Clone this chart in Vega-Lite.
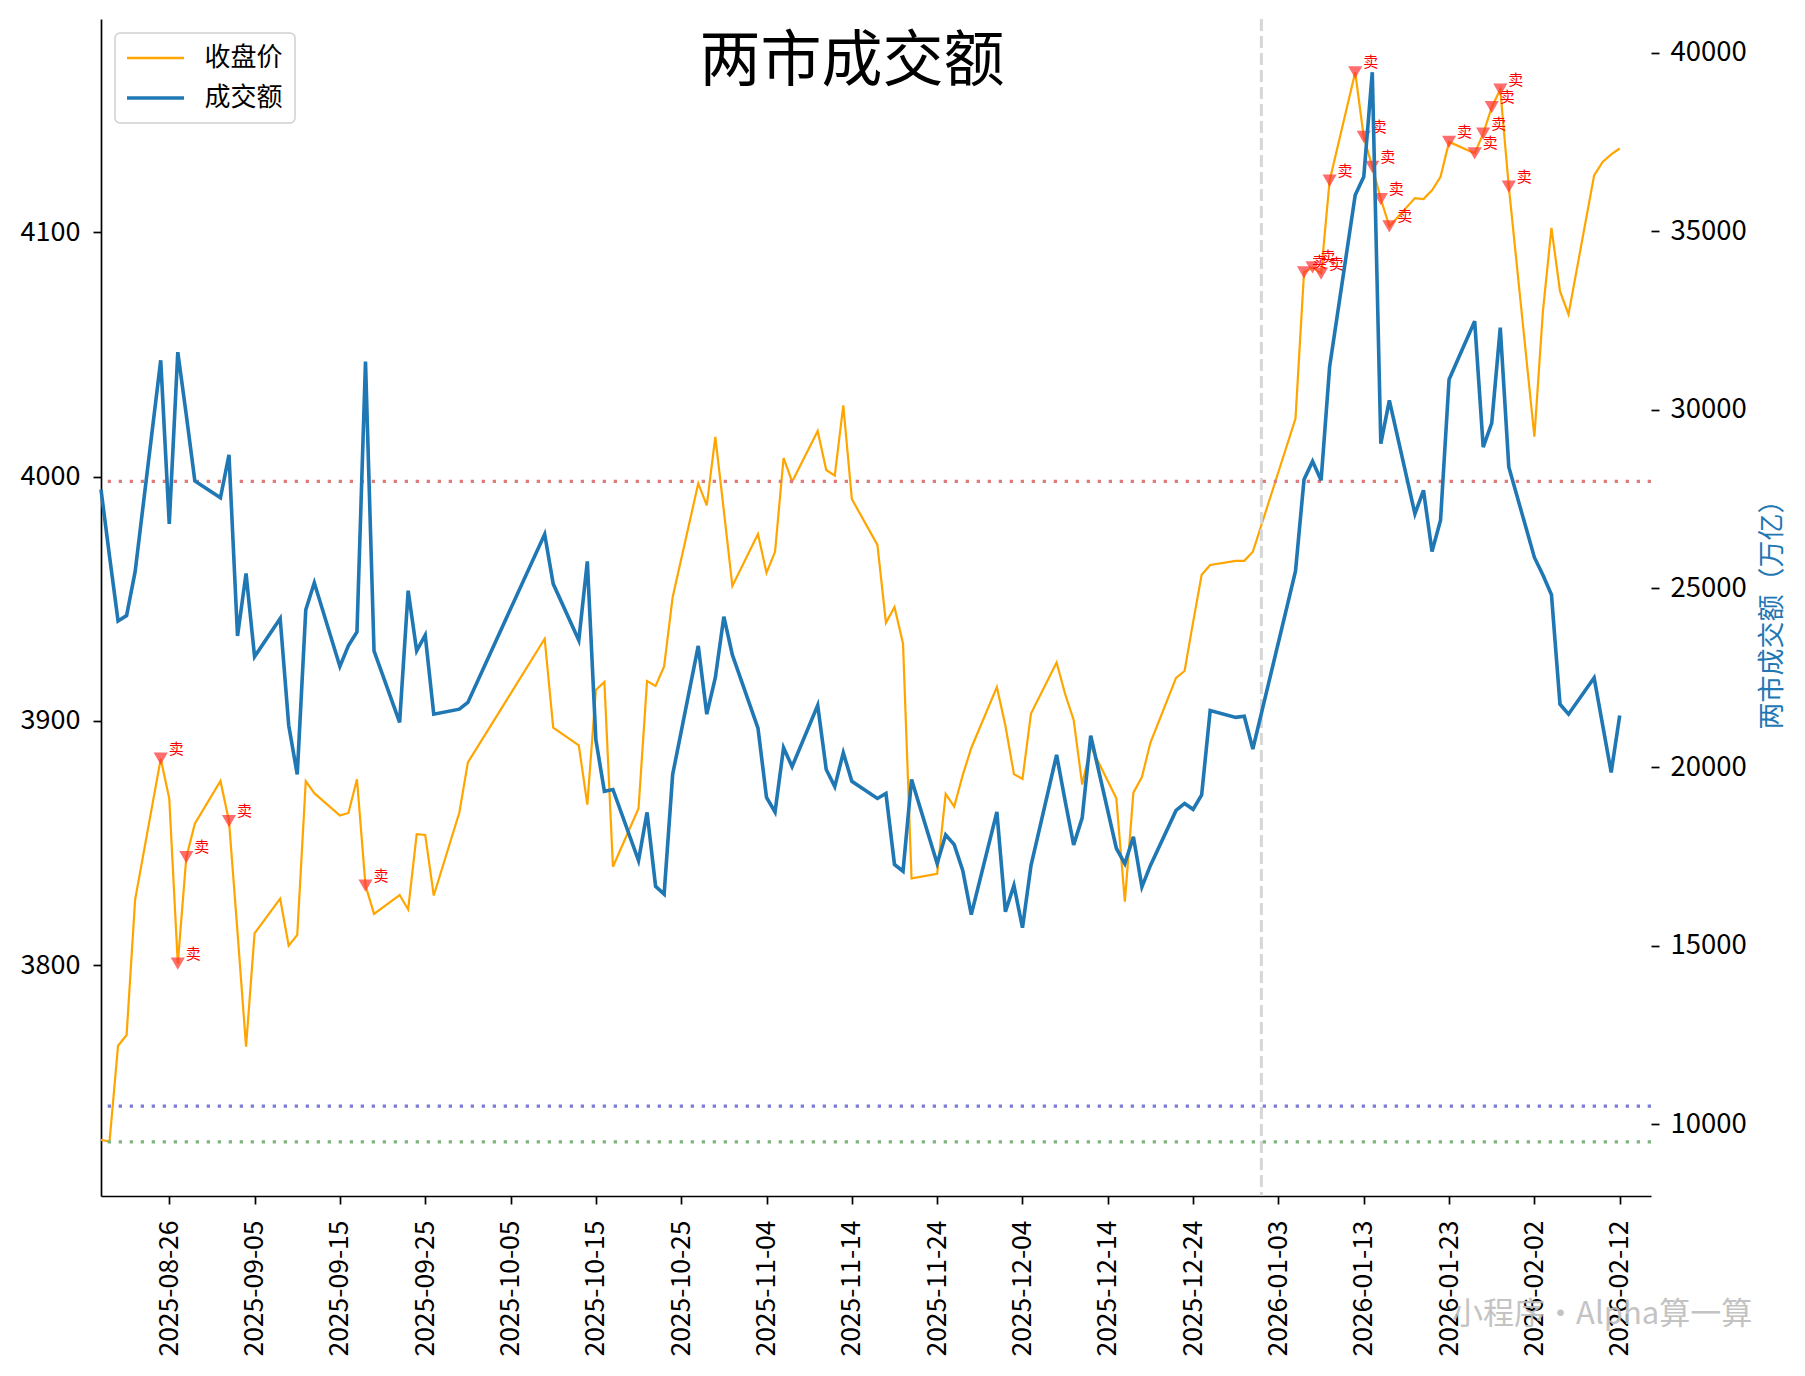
{
  "$schema": "https://vega.github.io/schema/vega-lite/v6.json",
  "autosize": {"type": "none"},
  "width": 1550,
  "height": 1177,
  "padding": {"left": 101, "top": 19, "right": 154, "bottom": 180},
  "background": "white",
  "title": {
    "text": "两市成交额",
    "fontSize": 61,
    "fontWeight": "normal",
    "color": "black",
    "anchor": "middle",
    "frame": "group",
    "offset": 0,
    "dx": -24,
    "dy": 76
  },
  "config": {
    "font": "Noto Sans CJK SC",
    "view": {"stroke": null},
    "legend": {
      "strokeWidth": 1.5
    }
  },
  "datasets": {
    "market": [
      {"date": "2025-08-18", "close": 3728.5, "vol": 27770},
      {"date": "2025-08-19", "close": 3727.8, "vol": 25900},
      {"date": "2025-08-20", "close": 3767.0, "vol": 24090},
      {"date": "2025-08-21", "close": 3771.4, "vol": 24240},
      {"date": "2025-08-22", "close": 3826.8, "vol": 25470},
      {"date": "2025-08-25", "close": 3884.5, "vol": 31390, "sig": "卖"},
      {"date": "2025-08-26", "close": 3868.2, "vol": 26810},
      {"date": "2025-08-27", "close": 3800.6, "vol": 31620, "sig": "卖"},
      {"date": "2025-08-28", "close": 3844.2, "vol": 29850, "sig": "卖"},
      {"date": "2025-08-29", "close": 3857.9, "vol": 28010},
      {"date": "2025-09-01", "close": 3875.4, "vol": 27540},
      {"date": "2025-09-02", "close": 3859.0, "vol": 28740, "sig": "卖"},
      {"date": "2025-09-03", "close": 3813.5, "vol": 23670},
      {"date": "2025-09-04", "close": 3766.6, "vol": 25420},
      {"date": "2025-09-05", "close": 3813.0, "vol": 23090},
      {"date": "2025-09-08", "close": 3827.2, "vol": 24160},
      {"date": "2025-09-09", "close": 3808.0, "vol": 21170},
      {"date": "2025-09-10", "close": 3812.4, "vol": 19790},
      {"date": "2025-09-11", "close": 3875.3, "vol": 24400},
      {"date": "2025-09-12", "close": 3870.4, "vol": 25160},
      {"date": "2025-09-15", "close": 3861.2, "vol": 22815},
      {"date": "2025-09-16", "close": 3862.3, "vol": 23400},
      {"date": "2025-09-17", "close": 3876.1, "vol": 23780},
      {"date": "2025-09-18", "close": 3832.6, "vol": 31355, "sig": "卖"},
      {"date": "2025-09-19", "close": 3821.0, "vol": 23250},
      {"date": "2025-09-22", "close": 3828.7, "vol": 21250},
      {"date": "2025-09-23", "close": 3822.8, "vol": 24940},
      {"date": "2025-09-24", "close": 3853.6, "vol": 23250},
      {"date": "2025-09-25", "close": 3853.3, "vol": 23690},
      {"date": "2025-09-26", "close": 3828.5, "vol": 21480},
      {"date": "2025-09-29", "close": 3862.5, "vol": 21620},
      {"date": "2025-09-30", "close": 3883.0, "vol": 21810},
      {"date": "2025-10-09", "close": 3933.6, "vol": 26520},
      {"date": "2025-10-10", "close": 3897.2, "vol": 25130},
      {"date": "2025-10-13", "close": 3890.0, "vol": 23550},
      {"date": "2025-10-14", "close": 3865.7, "vol": 25760},
      {"date": "2025-10-15", "close": 3912.6, "vol": 20760},
      {"date": "2025-10-16", "close": 3915.9, "vol": 19320},
      {"date": "2025-10-17", "close": 3840.3, "vol": 19370},
      {"date": "2025-10-20", "close": 3864.1, "vol": 17380},
      {"date": "2025-10-21", "close": 3916.3, "vol": 18730},
      {"date": "2025-10-22", "close": 3914.3, "vol": 16660},
      {"date": "2025-10-23", "close": 3922.3, "vol": 16440},
      {"date": "2025-10-24", "close": 3950.6, "vol": 19790},
      {"date": "2025-10-27", "close": 3997.2, "vol": 23390},
      {"date": "2025-10-28", "close": 3988.2, "vol": 21480},
      {"date": "2025-10-29", "close": 4016.2, "vol": 22500},
      {"date": "2025-10-30", "close": 3986.0, "vol": 24210},
      {"date": "2025-10-31", "close": 3955.2, "vol": 23140},
      {"date": "2025-11-03", "close": 3976.5, "vol": 21090},
      {"date": "2025-11-04", "close": 3960.6, "vol": 19150},
      {"date": "2025-11-05", "close": 3969.2, "vol": 18740},
      {"date": "2025-11-06", "close": 4007.6, "vol": 20540},
      {"date": "2025-11-07", "close": 3997.9, "vol": 20010},
      {"date": "2025-11-10", "close": 4018.6, "vol": 21730},
      {"date": "2025-11-11", "close": 4002.7, "vol": 19930},
      {"date": "2025-11-12", "close": 4000.4, "vol": 19450},
      {"date": "2025-11-13", "close": 4029.1, "vol": 20400},
      {"date": "2025-11-14", "close": 3990.8, "vol": 19600},
      {"date": "2025-11-17", "close": 3972.0, "vol": 19120},
      {"date": "2025-11-18", "close": 3940.1, "vol": 19260},
      {"date": "2025-11-19", "close": 3946.6, "vol": 17270},
      {"date": "2025-11-20", "close": 3931.6, "vol": 17080},
      {"date": "2025-11-21", "close": 3835.5, "vol": 19650},
      {"date": "2025-11-24", "close": 3837.4, "vol": 17300},
      {"date": "2025-11-25", "close": 3870.1, "vol": 18100},
      {"date": "2025-11-26", "close": 3864.9, "vol": 17825},
      {"date": "2025-11-27", "close": 3877.8, "vol": 17105},
      {"date": "2025-11-28", "close": 3888.9, "vol": 15865},
      {"date": "2025-12-01", "close": 3913.8, "vol": 18740},
      {"date": "2025-12-02", "close": 3898.0, "vol": 15945},
      {"date": "2025-12-03", "close": 3878.2, "vol": 16685},
      {"date": "2025-12-04", "close": 3876.2, "vol": 15500},
      {"date": "2025-12-05", "close": 3903.0, "vol": 17240},
      {"date": "2025-12-08", "close": 3923.9, "vol": 20340},
      {"date": "2025-12-09", "close": 3911.0, "vol": 19050},
      {"date": "2025-12-10", "close": 3900.4, "vol": 17820},
      {"date": "2025-12-11", "close": 3873.9, "vol": 18575},
      {"date": "2025-12-12", "close": 3889.5, "vol": 20875},
      {"date": "2025-12-15", "close": 3868.3, "vol": 17725},
      {"date": "2025-12-16", "close": 3826.0, "vol": 17290},
      {"date": "2025-12-17", "close": 3870.6, "vol": 18045},
      {"date": "2025-12-18", "close": 3877.0, "vol": 16645},
      {"date": "2025-12-19", "close": 3891.1, "vol": 17245},
      {"date": "2025-12-22", "close": 3917.6, "vol": 18785},
      {"date": "2025-12-23", "close": 3920.4, "vol": 18980},
      {"date": "2025-12-24", "close": 3940.4, "vol": 18815},
      {"date": "2025-12-25", "close": 3959.8, "vol": 19220},
      {"date": "2025-12-26", "close": 3963.8, "vol": 21580},
      {"date": "2025-12-29", "close": 3965.5, "vol": 21390},
      {"date": "2025-12-30", "close": 3965.5, "vol": 21420},
      {"date": "2025-12-31", "close": 3969.2, "vol": 20505},
      {"date": "2026-01-05", "close": 4023.7, "vol": 25485},
      {"date": "2026-01-06", "close": 4083.6, "vol": 28050, "sig": "卖"},
      {"date": "2026-01-07", "close": 4085.6, "vol": 28560, "sig": "卖"},
      {"date": "2026-01-08", "close": 4083.1, "vol": 28030, "sig": "卖"},
      {"date": "2026-01-09", "close": 4121.1, "vol": 31210, "sig": "卖"},
      {"date": "2026-01-12", "close": 4165.5, "vol": 36020, "sig": "卖"},
      {"date": "2026-01-13", "close": 4139.0, "vol": 36530, "sig": "卖"},
      {"date": "2026-01-14", "close": 4126.8, "vol": 39460, "sig": "卖"},
      {"date": "2026-01-15", "close": 4113.6, "vol": 29055, "sig": "卖"},
      {"date": "2026-01-16", "close": 4102.4, "vol": 30270, "sig": "卖"},
      {"date": "2026-01-19", "close": 4114.0, "vol": 27090},
      {"date": "2026-01-20", "close": 4113.6, "vol": 27750},
      {"date": "2026-01-21", "close": 4117.2, "vol": 26035},
      {"date": "2026-01-22", "close": 4122.7, "vol": 26915},
      {"date": "2026-01-23", "close": 4137.0, "vol": 30855, "sig": "卖"},
      {"date": "2026-01-26", "close": 4132.3, "vol": 32485, "sig": "卖"},
      {"date": "2026-01-27", "close": 4140.4, "vol": 28960, "sig": "卖"},
      {"date": "2026-01-28", "close": 4151.2, "vol": 29630, "sig": "卖"},
      {"date": "2026-01-29", "close": 4158.4, "vol": 32305, "sig": "卖"},
      {"date": "2026-01-30", "close": 4118.7, "vol": 28405, "sig": "卖"},
      {"date": "2026-02-02", "close": 4016.3, "vol": 25870},
      {"date": "2026-02-03", "close": 4067.7, "vol": 25380},
      {"date": "2026-02-04", "close": 4101.8, "vol": 24825},
      {"date": "2026-02-05", "close": 4075.9, "vol": 21760},
      {"date": "2026-02-06", "close": 4066.4, "vol": 21480},
      {"date": "2026-02-09", "close": 4123.3, "vol": 22500},
      {"date": "2026-02-10", "close": 4128.8, "vol": 21175},
      {"date": "2026-02-11", "close": 4131.9, "vol": 19850},
      {"date": "2026-02-12", "close": 4134.3, "vol": 21440}
    ],
    "levels": [
      {"kind": "high", "level": 28000},
      {"kind": "mid", "level": 10500},
      {"kind": "low", "level": 9500}
    ],
    "divider": [{"date": "2026-01-01"}],
    "watermark": [{"date": "2026-02-09T22:30:00Z", "close": 3656.7, "note": "小程序•Alpha算一算"}]
  },
  "layer": [
    {
      "data": {"name": "market"},
      "encoding": {
        "x": {
          "field": "date",
          "type": "temporal",
          "scale": {
            "type": "utc",
            "domain": [
              {"year": 2025, "month": 8, "date": 18, "utc": true},
              {"year": 2026, "month": 2, "date": 15, "hours": 16, "utc": true}
            ]
          },
          "axis": {
            "title": null,
            "grid": false,
            "values": [
              {"year": 2025, "month": 8, "date": 26, "utc": true},
              {"year": 2025, "month": 9, "date": 5, "utc": true},
              {"year": 2025, "month": 9, "date": 15, "utc": true},
              {"year": 2025, "month": 9, "date": 25, "utc": true},
              {"year": 2025, "month": 10, "date": 5, "utc": true},
              {"year": 2025, "month": 10, "date": 15, "utc": true},
              {"year": 2025, "month": 10, "date": 25, "utc": true},
              {"year": 2025, "month": 11, "date": 4, "utc": true},
              {"year": 2025, "month": 11, "date": 14, "utc": true},
              {"year": 2025, "month": 11, "date": 24, "utc": true},
              {"year": 2025, "month": 12, "date": 4, "utc": true},
              {"year": 2025, "month": 12, "date": 14, "utc": true},
              {"year": 2025, "month": 12, "date": 24, "utc": true},
              {"year": 2026, "month": 1, "date": 3, "utc": true},
              {"year": 2026, "month": 1, "date": 13, "utc": true},
              {"year": 2026, "month": 1, "date": 23, "utc": true},
              {"year": 2026, "month": 2, "date": 2, "utc": true},
              {"year": 2026, "month": 2, "date": 12, "utc": true}
            ],
            "format": "%Y-%m-%d",
            "labelAngle": 270,
            "labelFontSize": 26.5,
            "labelColor": "black",
            "labelPadding": 16,
            "labelOverlap": false,
            "labelFlush": false,
            "tickSize": 8,
            "tickWidth": 1.7,
            "tickColor": "black",
            "domainColor": "black",
            "domainWidth": 1.7
          }
        },
        "y": {
          "field": "close",
          "type": "quantitative",
          "scale": {"domain": [3705.5, 4187.3], "nice": false, "zero": false},
          "axis": {
            "orient": "left",
            "title": null,
            "grid": false,
            "values": [3800, 3900, 4000, 4100],
            "format": "d",
            "labelFontSize": 27,
            "labelColor": "black",
            "labelPadding": 13,
            "tickSize": 8,
            "tickWidth": 1.7,
            "tickColor": "black",
            "domainColor": "black",
            "domainWidth": 1.7
          }
        }
      },
      "layer": [
        {
          "mark": {"type": "line", "strokeWidth": 2.2},
          "encoding": {
            "color": {
              "datum": "收盘价",
              "scale": {"domain": ["收盘价", "成交额"], "range": ["#ffa500", "#1f77b4"]},
              "legend": {
                "title": null,
                "orient": "top-left",
                "offset": 14,
                "symbolType": "M-3,0H3",
                "symbolSize": 361,
                "symbolOffset": 15.5,
                "labelOffset": 36,
                "labelFontSize": 26,
                "labelColor": "black",
                "rowPadding": 14,
                "padding": 12,
                "fillColor": "white",
                "strokeColor": "#d0d0d0",
                "cornerRadius": 5,
                "encode": {
                  "symbols": {
                    "update": {
                      "strokeWidth": {"signal": "datum.value === '收盘价' ? 2.4 : 3.6"}
                    }
                  }
                }
              }
            }
          }
        },
        {
          "transform": [{"filter": "datum.sig"}],
          "mark": {"type": "point", "shape": "triangle-down", "filled": true, "color": "#ff3030", "opacity": 0.7, "size": 200}
        },
        {
          "transform": [{"filter": "datum.sig"}],
          "mark": {"type": "text", "color": "red", "fontSize": 15, "align": "left", "baseline": "middle", "dx": 8, "dy": -10},
          "encoding": {"text": {"field": "sig"}}
        },
        {
          "data": {"name": "watermark"},
          "mark": {"type": "text", "color": "#bdbdbd", "opacity": 0.9, "fontSize": 31, "align": "center", "baseline": "middle"},
          "encoding": {"text": {"field": "note"}}
        }
      ]
    },
    {
      "layer": [
        {
          "data": {"name": "divider"},
          "mark": {"type": "rule", "color": "#d6d6d6", "strokeWidth": 3, "strokeDash": [12, 5]},
          "encoding": {
            "x": {
              "field": "date",
              "type": "temporal",
              "scale": {
                "type": "utc",
                "domain": [
                  {"year": 2025, "month": 8, "date": 18, "utc": true},
                  {"year": 2026, "month": 2, "date": 15, "hours": 16, "utc": true}
                ]
              }
            }
          }
        },
        {
          "data": {"name": "levels"},
          "transform": [{"filter": "datum.kind === 'high'"}],
          "mark": {"type": "rule", "color": "#e07b7b", "strokeWidth": 3.3, "strokeDash": [3.3, 7.7]},
          "encoding": {
            "y": {
              "field": "level",
              "type": "quantitative",
              "scale": {"domain": [7985, 40950], "nice": false, "zero": false},
              "axis": {
                "orient": "right",
                "values": [10000, 15000, 20000, 25000, 30000, 35000, 40000],
                "format": "d",
                "grid": false,
                "domain": false,
                "labelFontSize": 27.5,
                "labelColor": "black",
                "labelPadding": 11,
                "tickSize": 8,
                "tickWidth": 1.7,
                "tickColor": "black",
                "title": "两市成交额（万亿）",
                "titleColor": "#1f77b4",
                "titleFontSize": 27,
                "titleFontWeight": "normal",
                "titleAngle": 270,
                "titlePadding": 40
              }
            }
          }
        },
        {
          "data": {"name": "levels"},
          "transform": [{"filter": "datum.kind === 'mid'"}],
          "mark": {"type": "rule", "color": "#7b7bd8", "strokeWidth": 3.3, "strokeDash": [3.3, 7.7]},
          "encoding": {
            "y": {"field": "level", "type": "quantitative", "scale": {"domain": [7985, 40950], "nice": false, "zero": false}}
          }
        },
        {
          "data": {"name": "levels"},
          "transform": [{"filter": "datum.kind === 'low'"}],
          "mark": {"type": "rule", "color": "#7fb57f", "strokeWidth": 3.3, "strokeDash": [3.3, 7.7]},
          "encoding": {
            "y": {"field": "level", "type": "quantitative", "scale": {"domain": [7985, 40950], "nice": false, "zero": false}}
          }
        },
        {
          "data": {"name": "market"},
          "mark": {"type": "line", "strokeWidth": 3.6},
          "encoding": {
            "x": {
              "field": "date",
              "type": "temporal",
              "scale": {
                "type": "utc",
                "domain": [
                  {"year": 2025, "month": 8, "date": 18, "utc": true},
                  {"year": 2026, "month": 2, "date": 15, "hours": 16, "utc": true}
                ]
              }
            },
            "y": {"field": "vol", "type": "quantitative", "scale": {"domain": [7985, 40950], "nice": false, "zero": false}},
            "color": {"datum": "成交额"}
          }
        }
      ]
    }
  ],
  "resolve": {"scale": {"y": "independent"}}
}
